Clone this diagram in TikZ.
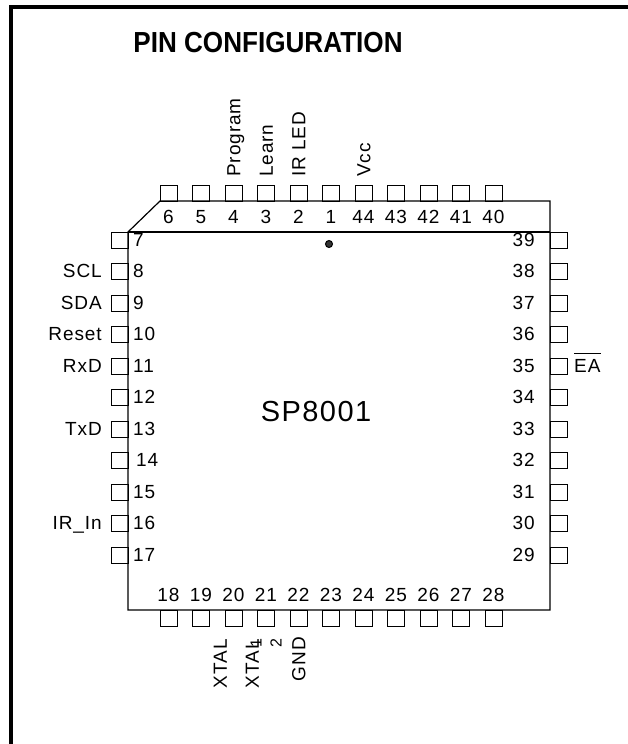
\documentclass[tikz,border=0pt]{standalone}
\usepackage{fontspec}
\setmainfont{Liberation Sans}
\newfontfamily\labfont[LetterSpace=5]{Liberation Sans}
\begin{document}
\begin{tikzpicture}[x=1pt,y=-1pt,
  pinbox/.style={draw,line width=0.9pt,rectangle,minimum width=17pt,minimum height=16pt,inner sep=0pt},
  num/.style={font=\labfont\fontsize{19}{22}\selectfont,inner sep=0pt},
  lab/.style={font=\labfont\fontsize{19}{22}\selectfont,inner sep=0pt},
  small/.style={font=\fontsize{16}{18}\selectfont,inner sep=0pt},
  body/.style={line width=1.2pt}
]
\useasboundingbox (0,0) rectangle (628,744);
% frame
\coordinate (f1) at (635,7.2);
\coordinate (f2) at (11,7.2);
\coordinate (f3) at (11,750);
\draw[line width=3.8pt] (f1) -- (f2) -- (f3);
\node[font=\bfseries\fontsize{29}{32}\selectfont,xscale=0.9,inner sep=0pt] (title) at (268,43) {PIN CONFIGURATION};
% package body
\coordinate (b1) at (160,201);
\coordinate (b2) at (550,201);
\coordinate (b3) at (550,610);
\coordinate (b4) at (128,610);
\coordinate (b5) at (128,232);
\coordinate (b6) at (550,232);
\draw[body] (b1) -- (b2) -- (b3) -- (b4) -- (b5) -- cycle;
\draw[body] (b5) -- (b6);
% top pins
\foreach \n [count=\i from 0] in {6,5,4,3,2,1,44,43,42,41,40} {
  \node[pinbox] (p\n) at (168.5+32.5*\i,193) {};
  \node[num,anchor=base] (n\n) at (168.5+32.5*\i,223) {\n};
}
% bottom pins
\foreach \n [count=\i from 0] in {18,19,20,21,22,23,24,25,26,27,28} {
  \node[pinbox] (p\n) at (168.5+32.5*\i,618) {};
  \node[num,anchor=base] (n\n) at (168.5+32.5*\i,601) {\n};
}
% left pins
\foreach \n [count=\i from 0] in {7,8,9,10,11,12,13,14,15,16,17} {
  \node[pinbox] (p\n) at (120,240+31.5*\i) {};
}
\foreach \n [count=\i from 0] in {7,8,9,10,11,12,13} {
  \node[num,anchor=base west] (n\n) at (133,246+31.5*\i) {\n};
}
\node[num,anchor=base west] (n14) at (136,246+31.5*7) {14};
\foreach \n [count=\i from 8] in {15,16,17} {
  \node[num,anchor=base west] (n\n) at (133,246+31.5*\i) {\n};
}
% right pins
\foreach \n [count=\i from 0] in {39,38,37,36,35,34,33,32,31,30,29} {
  \node[pinbox] (p\n) at (558.5,240+31.5*\i) {};
  \node[num,anchor=base east] (n\n) at (535,246+31.5*\i) {\n};
}
% top labels
\node[lab,rotate=90,anchor=base west] (lProg) at (240.3,177) {Program};
\node[lab,rotate=90,anchor=base west] (lLearn) at (272.8,177) {Learn};
\node[lab,rotate=90,anchor=base west] (lIRLED) at (305.3,177) {IR LED};
\node[lab,rotate=90,anchor=base west] (lVcc) at (370.3,177) {Vcc};
% left labels
\node[lab,anchor=base east] (lSCL) at (102,246+31.5*1) {SCL};
\node[lab,anchor=base east] (lSDA) at (102,246+31.5*2) {SDA};
\node[lab,anchor=base east] (lReset) at (102,246+31.5*3) {Reset};
\node[lab,anchor=base east] (lRxD) at (102,246+31.5*4) {RxD};
\node[lab,anchor=base east] (lTxD) at (102,246+31.5*6) {TxD};
\node[lab,anchor=base east] (lIRIn) at (102,246+31.5*9) {IR\_In};
% right label
\node[lab,anchor=base west] (lEA) at (574,246+31.5*4) {EA};
\draw[line width=1pt] ([yshift=5.5pt]lEA.north west) -- ([yshift=5.5pt]lEA.north east);
% bottom labels
\node[lab,rotate=90,anchor=base east] (lX1) at (226.8,639) {XTAL};
\node[lab,rotate=90,anchor=base east] (lX2) at (258.8,639) {XTAL};
\node[small,rotate=90] (s1) at (256,643) {1};
\node[small,rotate=90] (s2) at (276,643) {2};
\node[lab,rotate=90,anchor=base east] (lGND) at (305.3,637) {GND};
% centre
\node[font=\labfont\fontsize{29}{32}\selectfont,inner sep=0pt] (chip) at (316,412) {SP8001};
\node[circle,draw,line width=1pt,fill=black!80,minimum size=7pt,inner sep=0pt] (dot) at (329,244) {};
\end{tikzpicture}
\end{document}
